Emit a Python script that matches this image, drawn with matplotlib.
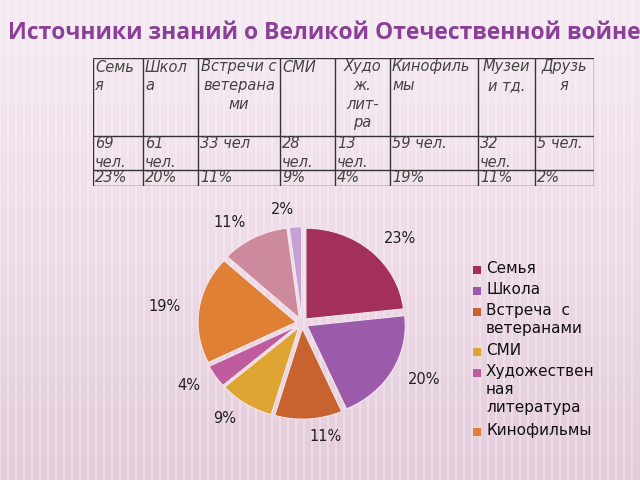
import numpy as np
import matplotlib
matplotlib.use("Agg")
import matplotlib.pyplot as plt
from matplotlib.patches import Rectangle

TITLE = "Источники знаний о Великой Отечественной войне"

# table columns (header wrapped as in the picture)
headers = ["Семь\nя", "Школ\nа", "Встречи с\nветерана\nми", "СМИ",
           "Худо\nж.\nлит-\nра", "Кинофиль\nмы", "Музеи\nи тд.", "Друзь\nя"]
header_centered = [False, False, True, False, True, False, True, True]
people = ["69\nчел.", "61\nчел.", "33 чел", "28\nчел.", "13\nчел.",
          "59 чел.", "32\nчел.", "5 чел."]
percents = [23, 20, 11, 9, 4, 19, 11, 2]

legend_labels = ["Семья", "Школа", "Встреча  с\nветеранами", "СМИ",
                 "Художествен\nная\nлитература", "Кинофильмы"]
colors = ["#A3305A", "#9B5AAA", "#C8622F", "#DFA532",
          "#BF5C9E", "#E08035", "#CC8A9C", "#C6A2D4"]

W, H = 640, 480
fig = plt.figure(figsize=(6.4, 4.8), dpi=100)

# background: pale pink gradient with faint vertical stripes
bg = fig.add_axes([0, 0, 1, 1], zorder=-10)
grad = np.linspace(0, 1, 256).reshape(-1, 1)
bg.imshow(grad, aspect="auto", extent=[0, 1, 0, 1], origin="upper",
          cmap=matplotlib.colors.LinearSegmentedColormap.from_list(
              "bgp", ["#F6EBF2", "#EEDDE8", "#E4CCDB"]))
for x in np.arange(0, 1, 0.0125):
    bg.axvline(x, color="white", lw=1.2, alpha=0.35)
bg.set_xlim(0, 1)
bg.set_ylim(0, 1)
bg.axis("off")

fig.text(8 / W, 1 - 33 / H, TITLE, fontsize=16.5, fontweight="bold",
         family=["Open Sans", "DejaVu Sans"], color="#8B3F99", va="center")

# table
tab = fig.add_axes([93 / W, 1 - 186 / H, 501 / W, 128 / H])
col_w = [50, 55, 82, 55, 55, 88, 57, 59]
edges = np.concatenate([[0], np.cumsum(col_w)])
row_edges = [0, 78, 112, 128]
tab.set_xlim(0, edges[-1])
tab.set_ylim(row_edges[-1], 0)
tab.axis("off")
tab.vlines(edges, 0, row_edges[-1], color="#333333", lw=1)
tab.hlines(row_edges, 0, edges[-1], color="#333333", lw=1)
txt = dict(fontsize=10.5, style="italic", color="#444444", va="top",
           linespacing=1.3)
for i in range(len(headers)):
    x0, x1 = edges[i], edges[i + 1]
    if header_centered[i]:
        tab.text((x0 + x1) / 2, 1.5, headers[i], ha="center",
                 multialignment="center", **txt)
    else:
        tab.text(x0 + 2, 1.5, headers[i], ha="left", **txt)
    tab.text(x0 + 2, row_edges[1] + 0.5, people[i], ha="left", **txt)
    tab.text(x0 + 2, row_edges[2] + 0.5, f"{percents[i]}%", ha="left", **txt)

# pie (slightly squashed, as in the picture)
cx, cy, hw, hh = 302, 323, 106, 98
pax = fig.add_axes([(cx - hw) / W, 1 - (cy + hh) / H, 2 * hw / W, 2 * hh / H])
wedges, texts = pax.pie(percents, colors=colors, startangle=90,
                        counterclock=False, explode=[0.06] * len(percents),
                        labels=[f"{p}%" for p in percents], labeldistance=1.19,
                        wedgeprops=dict(edgecolor="#F4E6EE", linewidth=0.8),
                        textprops=dict(fontsize=10.5, color="#222222"))
pax.set_aspect("auto")
pax.set_xlim(-1.08, 1.08)
pax.set_ylim(-1.08, 1.08)

# legend drawn by hand so markers sit on the first line of each entry
line_px = 19
y = 270
for lab, col in zip(legend_labels, colors):
    fig.patches.append(Rectangle((473 / W, 1 - (y + 4) / H), 8 / W, 8 / H,
                                 transform=fig.transFigure, facecolor=col,
                                 edgecolor="none"))
    fig.text(486 / W, 1 - (y - 9) / H, lab, fontsize=11, color="#111111",
             va="top", ha="left", linespacing=1.25)
    n = lab.count("\n") + 1
    y += n * line_px + 2

fig.savefig("out.png", dpi=100, facecolor=fig.get_facecolor())
